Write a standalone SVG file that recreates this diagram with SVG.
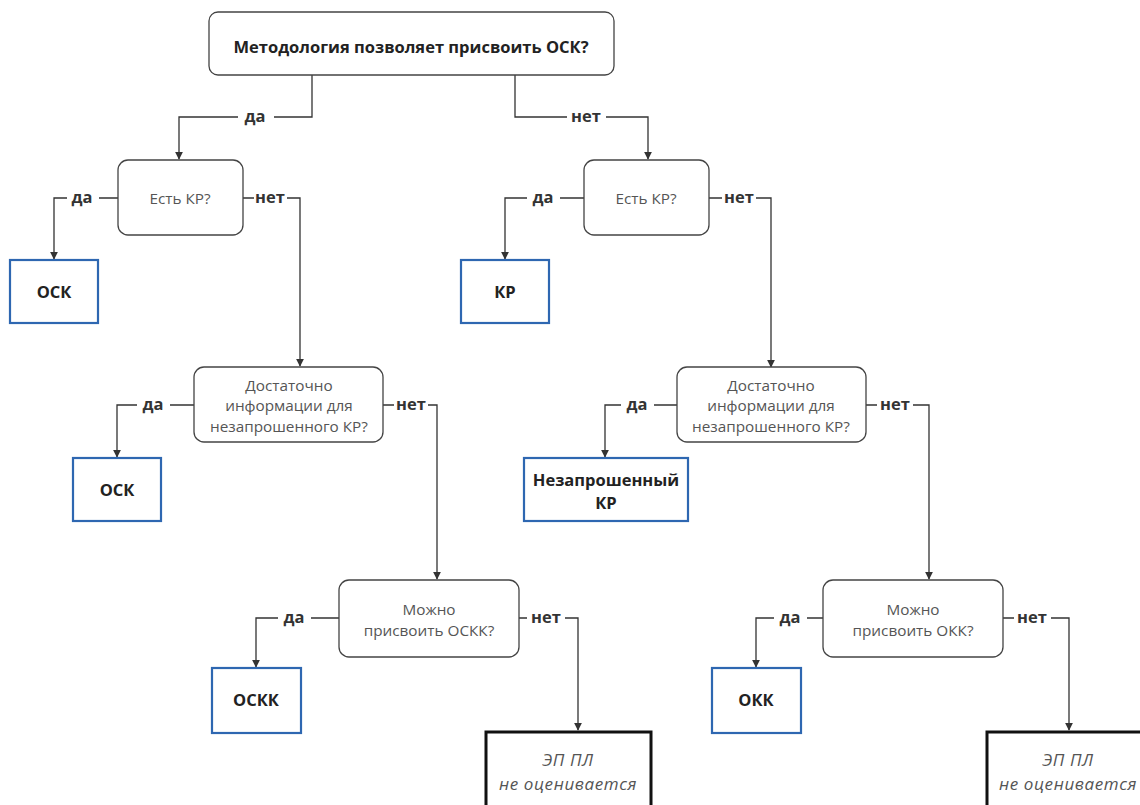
<svg xmlns="http://www.w3.org/2000/svg" width="1140" height="805" viewBox="0 0 1140 805">
<defs>
<marker id="arr" viewBox="0 0 10 10" refX="9" refY="5" markerWidth="8" markerHeight="8" markerUnits="userSpaceOnUse" orient="auto">
<path d="M0,0 L10,5 L0,10 z" fill="#333"/>
</marker>
<style>
.q{fill:#fff;stroke:#444;stroke-width:1.3}
.r{fill:#fff;stroke:#2e67b1;stroke-width:2.2}
.e{fill:#fff;stroke:#111;stroke-width:3}
.ca{fill:none;stroke:#333;stroke-width:1.3;marker-end:url(#arr)}
.lb{fill:#fff;stroke:none}
text{font-family:"Open Sans","Liberation Sans",sans-serif;text-anchor:middle}
.t{font-size:15.3px;fill:#555}
.tb{font-size:16.5px;font-weight:bold;fill:#222}
.l{font-size:16.5px;font-weight:bold;fill:#333}
.i{font-size:17px;font-style:italic;fill:#555;letter-spacing:0.6px}
</style>
</defs>
<rect width="1140" height="805" fill="#fff"/>

<g id="connectors">
<path class="ca" d="M312,75 V117 H179 V159"/>
<path class="ca" d="M515,75 V117 H648 V159"/>
<path class="ca" d="M118,198 H54 V259"/>
<path class="ca" d="M243,198 H300 V366"/>
<path class="ca" d="M584,198 H505 V259"/>
<path class="ca" d="M709,198 H771 V367"/>
<path class="ca" d="M194,405 H117 V457"/>
<path class="ca" d="M383,405 H437 V579"/>
<path class="ca" d="M677,405 H605 V457"/>
<path class="ca" d="M866,405 H929 V579"/>
<path class="ca" d="M339,618 H256 V667"/>
<path class="ca" d="M519,618 H578 V730"/>
<path class="ca" d="M823,618 H756 V667"/>
<path class="ca" d="M1003,618 H1069 V730"/>
<rect class="lb" x="238" y="107" width="36" height="20"/>
<text class="l" x="255" y="122">да</text>
<rect class="lb" x="567" y="107" width="39" height="20"/>
<text class="l" x="586" y="122">нет</text>
<rect class="lb" x="67" y="188" width="32" height="20"/>
<text class="l" x="82" y="203">да</text>
<rect class="lb" x="254" y="188" width="33" height="20"/>
<text class="l" x="270" y="203">нет</text>
<rect class="lb" x="527" y="188" width="33" height="20"/>
<text class="l" x="543" y="203">да</text>
<rect class="lb" x="722" y="188" width="34" height="20"/>
<text class="l" x="739" y="203">нет</text>
<rect class="lb" x="137" y="395" width="33" height="20"/>
<text class="l" x="153" y="410">да</text>
<rect class="lb" x="394" y="395" width="34" height="20"/>
<text class="l" x="411" y="410">нет</text>
<rect class="lb" x="621" y="395" width="33" height="20"/>
<text class="l" x="637" y="410">да</text>
<rect class="lb" x="877" y="395" width="36" height="20"/>
<text class="l" x="895" y="410">нет</text>
<rect class="lb" x="278" y="608" width="33" height="20"/>
<text class="l" x="294" y="623">да</text>
<rect class="lb" x="527" y="608" width="38" height="20"/>
<text class="l" x="546" y="623">нет</text>
<rect class="lb" x="774" y="608" width="33" height="20"/>
<text class="l" x="790" y="623">да</text>
<rect class="lb" x="1014" y="608" width="37" height="20"/>
<text class="l" x="1032" y="623">нет</text>
</g>

<g id="n-top">
<rect class="q" x="209" y="12" width="405" height="63" rx="9"/>
<text class="tb" x="411" y="53">Методология позволяет присвоить ОСК?</text>
</g>

<g id="n-kr-left">
<rect class="q" x="118" y="160" width="125" height="75" rx="10"/>
<text class="t" x="180" y="204">Есть КР?</text>
</g>
<g id="n-kr-right">
<rect class="q" x="584" y="160" width="125" height="75" rx="10"/>
<text class="t" x="646" y="204">Есть КР?</text>
</g>

<g id="r-osk1">
<rect class="r" x="10" y="260" width="88" height="63"/>
<text class="tb" x="54" y="298">ОСК</text>
</g>
<g id="r-kr">
<rect class="r" x="461" y="260" width="88" height="63"/>
<text class="tb" x="505" y="298">КР</text>
</g>

<g id="n-info-left">
<rect class="q" x="194" y="367" width="189" height="75" rx="10"/>
<text class="t" x="289" y="391">Достаточно</text>
<text class="t" x="289" y="411">информации для</text>
<text class="t" x="289" y="432">незапрошенного КР?</text>
</g>
<g id="n-info-right">
<rect class="q" x="677" y="367" width="189" height="75" rx="10"/>
<text class="t" x="771" y="391">Достаточно</text>
<text class="t" x="771" y="411">информации для</text>
<text class="t" x="771" y="432">незапрошенного КР?</text>
</g>

<g id="r-osk2">
<rect class="r" x="73" y="458" width="88" height="63"/>
<text class="tb" x="117" y="496">ОСК</text>
</g>
<g id="r-unsolicited">
<rect class="r" x="524" y="458" width="164" height="63"/>
<text class="tb" x="606" y="486">Незапрошенный</text>
<text class="tb" x="606" y="509">КР</text>
</g>

<g id="n-osck">
<rect class="q" x="339" y="580" width="180" height="77" rx="10"/>
<text class="t" x="429" y="615">Можно</text>
<text class="t" x="429" y="636">присвоить ОСКК?</text>
</g>
<g id="n-okk">
<rect class="q" x="823" y="580" width="180" height="77" rx="10"/>
<text class="t" x="913" y="615">Можно</text>
<text class="t" x="913" y="636">присвоить ОКК?</text>
</g>

<g id="r-osck">
<rect class="r" x="212" y="668" width="89" height="65"/>
<text class="tb" x="256" y="706">ОСКК</text>
</g>
<g id="r-okk">
<rect class="r" x="712" y="668" width="89" height="65"/>
<text class="tb" x="756" y="706">ОКК</text>
</g>

<g id="e-left">
<rect class="e" x="486" y="732" width="165" height="90"/>
<text class="i" x="568" y="766">ЭП ПЛ</text>
<text class="i" x="568" y="790">не оценивается</text>
</g>
<g id="e-right">
<rect class="e" x="987" y="732" width="165" height="90"/>
<text class="i" x="1068" y="766">ЭП ПЛ</text>
<text class="i" x="1068" y="790">не оценивается</text>
</g>
</svg>
